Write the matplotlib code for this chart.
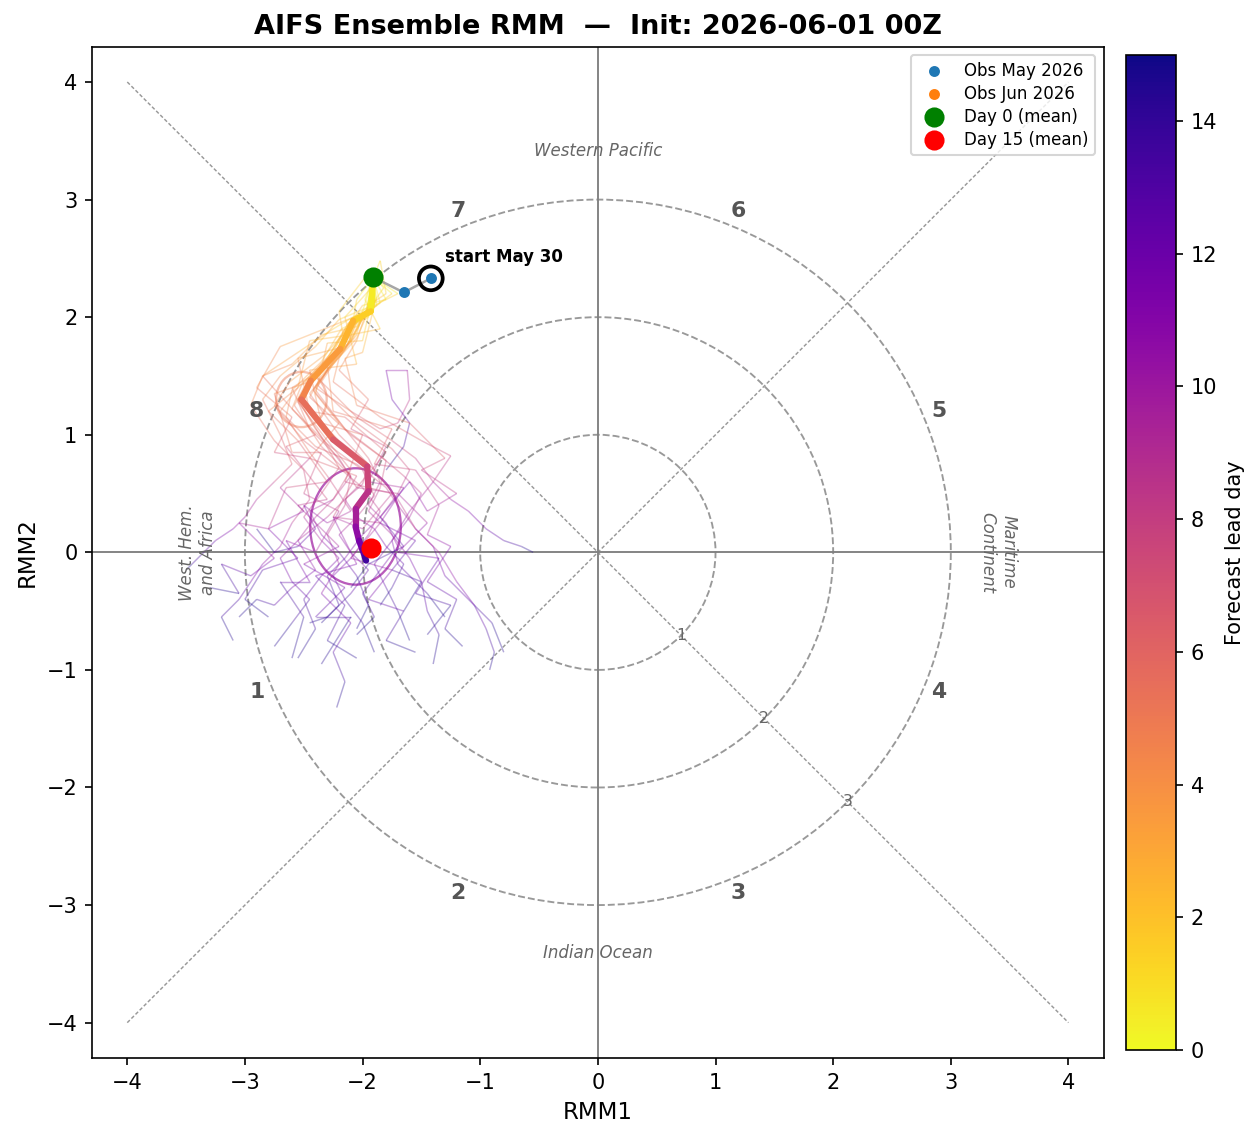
import numpy as np
import matplotlib
matplotlib.use("Agg")
import matplotlib.pyplot as plt
from matplotlib.collections import LineCollection
from matplotlib.patches import Circle, Ellipse

# ensemble mean, days 0..15
mean_x = [-1.91, -1.93, -2.08, -2.19, -2.44, -2.52, -2.25, -1.96, -1.95, -2.06, -2.06, -2.03, -2.00, -1.98, -1.97, -1.97]
mean_y = [2.34, 2.05, 1.97, 1.73, 1.46, 1.30, 0.96, 0.73, 0.52, 0.37, 0.22, 0.10, 0.02, -0.04, -0.07, -0.07]

# ensemble members (read approximately)
members_x = [
    [-1.91, -1.88, -1.98, -2.10, -2.35, -2.60, -2.45, -2.20, -2.05, -2.30, -2.55, -2.40, -2.60, -2.75, -2.90, -3.05],
    [-1.91, -1.95, -2.15, -2.30, -2.55, -2.70, -2.40, -2.05, -1.80, -1.70, -1.55, -1.40, -1.30, -1.10, -0.90, -0.80],
    [-1.91, -1.90, -2.00, -2.05, -2.25, -2.35, -2.05, -1.75, -1.55, -1.40, -1.25, -1.10, -0.95, -0.80, -0.65, -0.55],
    [-1.91, -1.97, -2.12, -2.25, -2.50, -2.58, -2.35, -2.10, -2.15, -2.30, -2.20, -2.35, -2.10, -2.25, -2.15, -2.22],
    [-1.91, -1.96, -2.20, -2.40, -2.70, -2.85, -2.70, -2.60, -2.75, -2.90, -3.00, -3.10, -3.25, -3.35, -3.45, -3.50],
    [-1.91, -1.90, -2.05, -2.15, -2.30, -2.40, -2.10, -1.85, -1.70, -1.60, -1.62, -1.80, -1.75, -1.60, -1.65, -1.80],
    [-1.91, -1.93, -2.05, -2.15, -2.35, -2.45, -2.20, -1.90, -1.70, -1.55, -1.35, -1.20, -1.05, -0.95, -0.88, -0.92],
    [-1.91, -2.00, -2.25, -2.55, -2.85, -2.95, -2.75, -2.50, -2.45, -2.60, -2.70, -2.85, -2.95, -3.05, -3.20, -3.10],
    [-1.91, -1.88, -1.95, -2.05, -2.20, -2.25, -1.85, -1.50, -1.25, -1.40, -1.60, -1.75, -1.90, -1.80, -1.70, -1.60],
    [-1.91, -1.92, -2.10, -2.20, -2.45, -2.55, -2.30, -2.10, -2.25, -2.40, -2.55, -2.70, -2.60, -2.45, -2.60, -2.75],
    [-1.91, -1.85, -1.95, -2.05, -2.30, -2.40, -2.15, -1.95, -1.85, -1.95, -1.80, -1.70, -1.85, -2.00, -1.90, -2.05],
    [-1.91, -1.98, -2.18, -2.35, -2.60, -2.65, -2.45, -2.30, -2.20, -2.10, -2.30, -2.50, -2.40, -2.55, -2.75, -2.90],
    [-1.91, -1.94, -2.05, -2.12, -2.35, -2.45, -2.10, -1.80, -1.85, -1.95, -1.75, -1.60, -1.50, -1.45, -1.35, -1.40],
    [-1.91, -1.90, -2.02, -2.18, -2.42, -2.55, -2.35, -2.20, -2.35, -2.50, -2.35, -2.20, -2.35, -2.50, -2.40, -2.55],
    [-1.91, -1.95, -2.12, -2.28, -2.52, -2.60, -2.30, -2.00, -1.90, -2.05, -2.20, -2.10, -1.95, -2.10, -2.30, -2.45],
    [-1.91, -1.89, -1.98, -2.08, -2.28, -2.38, -2.05, -1.75, -1.60, -1.70, -1.85, -2.00, -2.15, -2.30, -2.20, -2.35],
    [-1.91, -1.96, -2.08, -2.22, -2.48, -2.50, -2.20, -1.95, -2.00, -2.15, -2.05, -1.90, -1.80, -1.65, -1.75, -1.85],
    [-1.91, -1.92, -2.04, -2.20, -2.40, -2.55, -2.40, -2.25, -2.10, -2.25, -2.45, -2.35, -2.20, -2.05, -1.95, -2.05],
    [-1.91, -1.94, -2.10, -2.32, -2.62, -2.75, -2.50, -2.20, -2.00, -1.85, -1.95, -2.10, -2.25, -2.15, -2.00, -1.90],
    [-1.91, -1.90, -2.00, -2.10, -2.30, -2.42, -2.15, -1.85, -1.65, -1.50, -1.60, -1.75, -1.70, -1.55, -1.45, -1.30],
    [-1.91, -1.85, -1.80, -1.95, -2.05, -2.20, -1.95, -2.10, -1.80, -1.95, -1.65, -1.85, -1.55, -1.75, -1.50, -1.65],
    [-1.91, -1.75, -1.95, -2.20, -2.70, -2.90, -2.60, -2.75, -2.45, -2.70, -2.50, -2.80, -2.55, -2.85, -3.00, -2.80],
    [-1.91, -1.98, -1.85, -2.10, -2.30, -2.25, -1.75, -1.90, -1.55, -1.35, -1.45, -1.25, -1.45, -1.20, -1.30, -1.15],
    [-1.91, -1.82, -2.05, -2.35, -2.60, -2.85, -2.40, -2.65, -2.30, -2.55, -2.20, -2.50, -2.15, -2.40, -2.10, -2.35],
    [-1.91, -1.95, -2.00, -2.30, -2.40, -2.20, -2.45, -2.05, -2.25, -1.85, -2.10, -1.75, -1.95, -1.65, -1.80, -1.55],
    [-1.91, -1.70, -1.90, -2.00, -2.15, -2.05, -1.60, -1.30, -1.50, -1.20, -1.45, -1.60, -1.85, -1.65, -1.95, -2.10],
    [-1.91, -2.05, -2.10, -2.45, -2.55, -2.80, -2.55, -2.30, -2.65, -2.80, -3.05, -2.75, -2.95, -3.20, -3.05, -3.30],
    [-1.91, -1.88, -2.15, -2.05, -2.45, -2.35, -2.00, -2.15, -1.75, -2.00, -2.25, -2.05, -2.40, -2.15, -2.30, -2.05],
    [-1.91, -1.93, -2.20, -2.15, -2.55, -2.45, -2.15, -1.80, -2.05, -1.70, -1.45, -1.70, -1.35, -1.55, -1.25, -1.45],
    [-1.91, -1.80, -2.00, -2.30, -2.45, -2.75, -2.60, -2.35, -2.50, -2.20, -2.40, -2.65, -2.45, -2.70, -2.50, -2.60],
]
members_y = [
    [2.34, 2.10, 2.02, 1.80, 1.55, 1.40, 1.05, 0.80, 0.55, 0.30, 0.10, -0.15, -0.30, -0.45, -0.40, -0.55],
    [2.34, 2.00, 1.90, 1.65, 1.40, 1.20, 0.90, 0.75, 0.55, 0.40, 0.20, 0.05, -0.20, -0.40, -0.60, -0.85],
    [2.34, 2.12, 2.05, 1.85, 1.60, 1.45, 1.15, 0.95, 0.80, 0.60, 0.45, 0.35, 0.20, 0.10, 0.05, 0.00],
    [2.34, 2.05, 1.95, 1.70, 1.40, 1.25, 0.90, 0.65, 0.40, 0.15, -0.10, -0.35, -0.60, -0.85, -1.10, -1.32],
    [2.34, 2.08, 1.98, 1.75, 1.50, 1.30, 1.00, 0.75, 0.60, 0.45, 0.30, 0.20, 0.10, 0.00, -0.10, -0.15],
    [2.34, 2.10, 2.00, 1.78, 1.55, 1.40, 1.20, 1.05, 1.10, 1.30, 1.55, 1.55, 1.30, 1.10, 0.90, 0.70],
    [2.34, 2.06, 1.95, 1.72, 1.48, 1.35, 1.00, 0.70, 0.45, 0.20, 0.00, -0.25, -0.45, -0.65, -0.85, -1.00],
    [2.34, 2.05, 1.90, 1.70, 1.50, 1.25, 0.95, 0.70, 0.45, 0.25, 0.05, -0.10, -0.25, -0.40, -0.55, -0.75],
    [2.34, 2.15, 2.08, 1.90, 1.65, 1.45, 1.15, 0.95, 0.82, 0.60, 0.35, 0.10, -0.10, -0.30, -0.50, -0.75],
    [2.34, 2.03, 1.93, 1.70, 1.45, 1.28, 0.95, 0.70, 0.45, 0.30, 0.10, -0.05, -0.25, -0.40, -0.60, -0.80],
    [2.34, 2.12, 2.05, 1.82, 1.55, 1.38, 1.05, 0.80, 0.60, 0.40, 0.25, 0.05, -0.15, -0.35, -0.55, -0.70],
    [2.34, 2.00, 1.90, 1.62, 1.38, 1.15, 0.85, 0.65, 0.50, 0.35, 0.25, 0.40, 0.20, 0.05, 0.00, 0.20],
    [2.34, 2.08, 1.98, 1.78, 1.50, 1.32, 1.00, 0.78, 0.55, 0.35, 0.15, -0.05, -0.25, -0.50, -0.70, -0.95],
    [2.34, 2.10, 2.00, 1.75, 1.48, 1.30, 0.98, 0.72, 0.50, 0.30, 0.10, -0.05, -0.20, -0.40, -0.65, -0.90],
    [2.34, 2.04, 1.95, 1.68, 1.42, 1.22, 0.92, 0.70, 0.48, 0.30, 0.15, 0.00, -0.15, -0.35, -0.55, -0.60],
    [2.34, 2.12, 2.04, 1.82, 1.58, 1.42, 1.10, 0.88, 0.70, 0.50, 0.30, 0.15, -0.05, -0.20, -0.45, -0.60],
    [2.34, 2.06, 1.96, 1.72, 1.45, 1.25, 0.95, 0.75, 0.58, 0.45, 0.30, 0.20, 0.05, -0.10, -0.30, -0.45],
    [2.34, 2.08, 1.98, 1.74, 1.50, 1.30, 1.05, 0.85, 0.65, 0.45, 0.35, 0.15, 0.00, -0.20, -0.45, -0.65],
    [2.34, 2.04, 1.93, 1.68, 1.45, 1.25, 0.95, 0.72, 0.55, 0.35, 0.15, -0.05, -0.20, -0.40, -0.60, -0.85],
    [2.34, 2.10, 2.02, 1.80, 1.55, 1.38, 1.05, 0.82, 0.65, 0.50, 0.30, 0.10, -0.10, -0.25, -0.35, -0.55],
    [2.34, 2.48, 2.20, 2.10, 1.80, 1.55, 1.30, 1.05, 0.90, 0.60, 0.55, 0.25, 0.10, -0.15, -0.25, -0.50],
    [2.34, 2.20, 2.05, 1.95, 1.75, 1.40, 1.15, 0.85, 0.80, 0.55, 0.35, 0.20, -0.05, -0.15, -0.40, -0.55],
    [2.34, 2.15, 1.90, 1.85, 1.60, 1.20, 1.05, 0.75, 0.70, 0.40, 0.15, 0.05, -0.25, -0.40, -0.65, -0.80],
    [2.34, 2.25, 1.92, 1.85, 1.60, 1.50, 1.00, 0.90, 0.45, 0.40, 0.05, -0.10, -0.30, -0.55, -0.55, -0.95],
    [2.34, 2.02, 1.80, 1.78, 1.35, 1.10, 0.80, 0.65, 0.30, 0.25, -0.05, -0.15, -0.40, -0.50, -0.75, -0.85],
    [2.34, 2.20, 2.10, 1.70, 1.65, 1.25, 1.10, 0.80, 0.70, 0.50, 0.35, 0.60, 0.30, 0.05, -0.10, -0.30],
    [2.34, 2.15, 1.85, 1.80, 1.40, 1.20, 0.95, 0.60, 0.55, 0.20, 0.25, -0.05, -0.20, -0.10, -0.35, -0.30],
    [2.34, 2.30, 2.00, 1.60, 1.55, 1.10, 1.00, 0.60, 0.50, 0.20, 0.30, -0.10, -0.20, -0.45, -0.75, -0.90],
    [2.34, 2.40, 2.05, 1.75, 1.65, 1.20, 1.15, 0.85, 0.55, 0.50, 0.25, 0.00, -0.05, -0.35, -0.45, -0.70],
    [2.34, 2.15, 2.10, 1.65, 1.45, 1.35, 0.85, 0.85, 0.50, 0.35, 0.00, 0.10, -0.25, -0.25, -0.55, -0.90],
]

# observations
obs_may_x = [-1.42, -1.65]
obs_may_y = [2.33, 2.21]
obs_jun_x = [-1.91]
obs_jun_y = [2.34]
day15_x, day15_y = -1.93, 0.04

# spread ellipses at these lead days
ell_days = [5, 10]
ell_w = [0.43, 0.77]
ell_h = [0.47, 0.99]
ell_alpha = [0.45, 0.7]

cmap = plt.get_cmap("plasma_r")
norm = plt.Normalize(0, 15)

fig = plt.figure(figsize=(8.4, 7.6), dpi=150)
ax = fig.add_axes([0.073, 0.072, 0.803, 0.887])
cax = fig.add_axes([0.8936, 0.079, 0.0397, 0.873])

# background: circles, diagonals, axes
for r in [1, 2, 3]:
    ax.add_patch(Circle((0, 0), r, fill=False, ls="--", color="#999999", lw=0.9))
ax.plot([-4, 4], [-4, 4], ls="--", color="#999999", lw=0.7, dashes=(2.5, 1.5))
ax.plot([-4, 4], [4, -4], ls="--", color="#999999", lw=0.7, dashes=(2.5, 1.5))
ax.axhline(0, color="gray", lw=0.9)
ax.axvline(0, color="gray", lw=0.9)

for r in [1, 2, 3]:
    ax.text(r * 0.707, -r * 0.707, str(r), fontsize=7.5, color="#666666", ha="center", va="center")

phase_pos = {"1": (-2.9, -1.19), "2": (-1.19, -2.9), "3": (1.19, -2.9), "4": (2.9, -1.19),
             "5": (2.9, 1.2), "6": (1.19, 2.9), "7": (-1.19, 2.9), "8": (-2.9, 1.2)}
for k, (px, py) in phase_pos.items():
    ax.text(px, py, k, fontsize=10.5, fontweight="bold", color="#555555", ha="center", va="center")

ax.text(0, 3.41, "Western Pacific", fontsize=8, style="italic", color="#666666", ha="center", va="center")
ax.text(0, -3.41, "Indian Ocean", fontsize=8, style="italic", color="#666666", ha="center", va="center")
ax.text(-3.4, 0, "West. Hem.\nand Africa", fontsize=8, style="italic", color="#666666",
        ha="center", va="center", rotation=90)
ax.text(3.4, 0, "Maritime\nContinent", fontsize=8, style="italic", color="#666666",
        ha="center", va="center", rotation=-90)

# ensemble members
for mx_, my_ in zip(members_x, members_y):
    pts = np.column_stack([mx_, my_]).reshape(-1, 1, 2)
    segs = np.concatenate([pts[:-1], pts[1:]], axis=1)
    lc = LineCollection(segs, cmap=cmap, norm=norm, lw=0.7, alpha=0.35)
    lc.set_array(np.arange(len(mx_) - 1) + 0.5)
    ax.add_collection(lc)

# spread ellipses
for d, w, h, a in zip(ell_days, ell_w, ell_h, ell_alpha):
    ax.add_patch(Ellipse((mean_x[d], mean_y[d]), w, h, fill=False,
                         edgecolor=cmap(norm(d)), lw=1.1, alpha=a))

# mean trajectory
pts = np.column_stack([mean_x, mean_y]).reshape(-1, 1, 2)
segs = np.concatenate([pts[:-1], pts[1:]], axis=1)
lc = LineCollection(segs, cmap=cmap, norm=norm, lw=3, capstyle="round", joinstyle="round")
lc.set_array(np.arange(len(mean_x) - 1) + 0.5)
ax.add_collection(lc)

# observations
ax.plot(obs_may_x + obs_jun_x, obs_may_y + obs_jun_y, color="gray", lw=1.2, alpha=0.7, zorder=4)
ax.scatter(obs_may_x, obs_may_y, s=18, color="tab:blue", zorder=5, label="Obs May 2026")
ax.scatter(obs_jun_x, obs_jun_y, s=18, color="tab:orange", zorder=5, label="Obs Jun 2026")
ax.scatter([obs_may_x[0]], [obs_may_y[0]], s=130, facecolors="none", edgecolors="black", lw=1.8, zorder=6)
ax.text(obs_may_x[0] + 0.12, obs_may_y[0] + 0.18, "start May 30", fontsize=8, fontweight="bold", va="center")
ax.scatter([mean_x[0]], [mean_y[0]], s=75, color="green", zorder=7, label="Day 0 (mean)")
ax.scatter([day15_x], [day15_y], s=75, color="red", zorder=7, label="Day 15 (mean)")

ax.set_xlim(-4.3, 4.3)
ax.set_ylim(-4.3, 4.3)
ax.set_xticks(range(-4, 5))
ax.set_yticks(range(-4, 5))
ax.set_xlabel("RMM1", fontsize=11)
ax.set_ylabel("RMM2", fontsize=11)
ax.set_title("AIFS Ensemble RMM  —  Init: 2026-06-01 00Z", fontsize=13, fontweight="bold")
ax.legend(loc="upper right", fontsize=8, labelspacing=0.3)

sm = plt.cm.ScalarMappable(cmap=cmap, norm=norm)
cb = fig.colorbar(sm, cax=cax)
cb.set_label("Forecast lead day", fontsize=10)
cb.set_ticks(range(0, 15, 2))

fig.savefig("out.png", dpi=150)
